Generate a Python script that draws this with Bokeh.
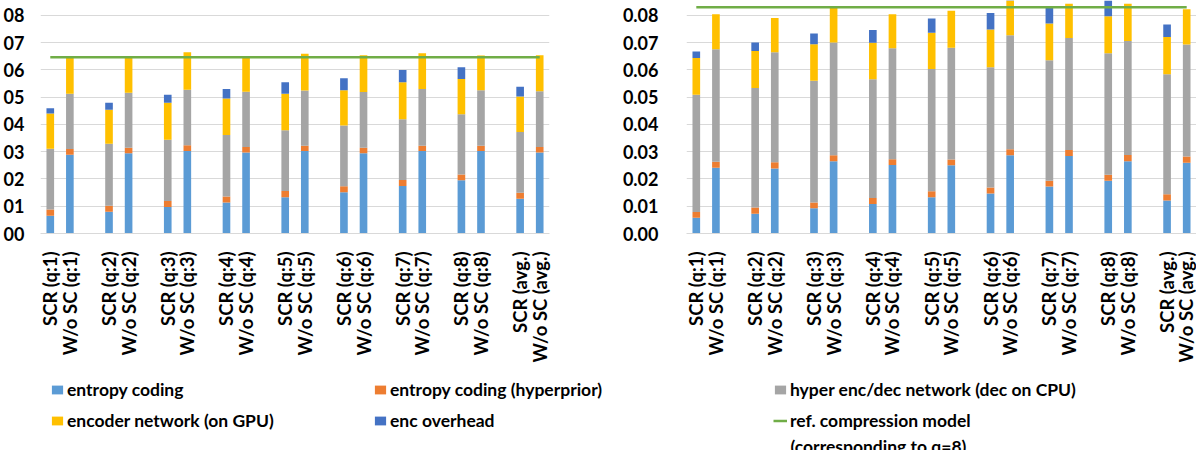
import math
from bokeh.plotting import figure
from bokeh.models import (FixedTicker, Legend, LegendItem, Label, ColumnDataSource,
                          Range1d, PrintfTickFormatter)
from bokeh.layouts import column, row
from bokeh.embed import file_html
from bokeh.resources import INLINE

# ---------------- data ----------------
groups = ["q:1", "q:2", "q:3", "q:4", "q:5", "q:6", "q:7", "q:8", "avg."]
scr_labels = [f"SCR ({g})" for g in groups]
wo_labels = [f"W/o SC ({g})" for g in groups]

series_names = ["entropy coding", "entropy coding (hyperprior)",
                "hyper enc/dec network (dec on CPU)", "encoder network (on GPU)",
                "enc overhead"]

# Left panel (sec.)
left_scr_entropy  = [0.0065, 0.0080, 0.0097, 0.0114, 0.0133, 0.0151, 0.0174, 0.0195, 0.0127]
left_scr_hyper_ec = [0.0023, 0.0022, 0.0022, 0.0022, 0.0023, 0.0022, 0.0022, 0.0021, 0.0022]
left_scr_hypernet = [0.0223, 0.0227, 0.0225, 0.0225, 0.0222, 0.0223, 0.0223, 0.0221, 0.0223]
left_scr_encoder  = [0.0129, 0.0125, 0.0135, 0.0134, 0.0134, 0.0129, 0.0135, 0.0129, 0.0130]
left_scr_overhead = [0.0019, 0.0025, 0.0030, 0.0035, 0.0042, 0.0044, 0.0045, 0.0043, 0.0036]

left_wo_entropy  = [0.0289, 0.0294, 0.0302, 0.0297, 0.0302, 0.0294, 0.0302, 0.0302, 0.0297]
left_wo_hyper_ec = [0.0021, 0.0020, 0.0021, 0.0020, 0.0020, 0.0020, 0.0020, 0.0020, 0.0020]
left_wo_hypernet = [0.0202, 0.0202, 0.0204, 0.0203, 0.0202, 0.0205, 0.0208, 0.0203, 0.0204]
left_wo_encoder  = [0.0133, 0.0128, 0.0137, 0.0124, 0.0135, 0.0134, 0.0131, 0.0127, 0.0132]
left_wo_overhead = [0, 0, 0, 0, 0, 0, 0, 0, 0]

left_ref = 0.0646

# Right panel (sec.)
right_scr_entropy  = [0.0058, 0.0072, 0.0093, 0.0108, 0.0133, 0.0147, 0.0172, 0.0193, 0.0121]
right_scr_hyper_ec = [0.0021, 0.0023, 0.0021, 0.0022, 0.0022, 0.0022, 0.0021, 0.0022, 0.0023]
right_scr_hypernet = [0.0430, 0.0438, 0.0446, 0.0435, 0.0448, 0.0440, 0.0442, 0.0446, 0.0440]
right_scr_encoder  = [0.0134, 0.0136, 0.0134, 0.0134, 0.0133, 0.0139, 0.0135, 0.0135, 0.0136]
right_scr_overhead = [0.0024, 0.0031, 0.0039, 0.0047, 0.0052, 0.0060, 0.0062, 0.0064, 0.0046]

right_wo_entropy  = [0.0241, 0.0238, 0.0265, 0.0251, 0.0250, 0.0287, 0.0284, 0.0265, 0.0259]
right_wo_hyper_ec = [0.0022, 0.0023, 0.0022, 0.0021, 0.0021, 0.0022, 0.0022, 0.0023, 0.0023]
right_wo_hypernet = [0.0412, 0.0403, 0.0413, 0.0407, 0.0410, 0.0418, 0.0411, 0.0418, 0.0411]
right_wo_encoder  = [0.0129, 0.0126, 0.0130, 0.0125, 0.0135, 0.0131, 0.0125, 0.0136, 0.0129]
right_wo_overhead = [0, 0, 0, 0, 0, 0, 0, 0, 0]

right_ref = 0.0829

y_ticks = [0.0, 0.01, 0.02, 0.03, 0.04, 0.05, 0.06, 0.07, 0.08]
left_tick_text = ["00", "01", "02", "03", "04", "05", "06", "07", "08"]

colors = ["#5B9BD5", "#ED7D31", "#A5A5A5", "#FFC000", "#4472C4"]
ref_color = "#70AD47"
grid_color = "#D9D9D9"
FONT = "Lato"

# bar positions: pairs with a gap slot between groups
scr_x = [3 * i for i in range(len(groups))]
wo_x = [3 * i + 1 for i in range(len(groups))]
keys = ["entropy", "hyper_ec", "hypernet", "encoder", "overhead"]


def make_source(scr, wo):
    data = {"x": scr_x + wo_x}
    for k, a, b in zip(keys, scr, wo):
        data[k] = list(a) + list(b)
    return ColumnDataSource(data)


def make_panel(scr, wo, ref, width, bl, br, left_labels):
    p = figure(width=width, height=365, output_backend="svg", toolbar_location=None,
               x_range=Range1d(-0.5, 25.5), y_range=Range1d(0, 0.0854),
               min_border_left=bl, min_border_right=br, min_border_top=0,
               min_border_bottom=128, outline_line_color=None)
    src = make_source(scr, wo)
    p.vbar_stack(keys, x="x", width=0.39, color=colors, line_color=None, source=src)
    ref_x = [scr_x[0], wo_x[-1]]
    p.line(ref_x, [ref, ref], line_color=ref_color, line_width=2.5)

    # x axis
    xt = scr_x + wo_x
    p.xaxis.ticker = FixedTicker(ticks=sorted(xt))
    ov = {}
    for x, lab in zip(scr_x, scr_labels):
        ov[x] = lab
    for x, lab in zip(wo_x, wo_labels):
        ov[x] = lab
    p.xaxis.major_label_overrides = ov
    p.xaxis.major_label_orientation = math.pi / 2
    p.xaxis.major_tick_line_color = None
    p.xaxis.minor_tick_line_color = None
    p.xaxis.axis_line_color = grid_color
    p.xaxis.major_label_standoff = 12
    p.xaxis.major_label_text_font = FONT
    p.xaxis.major_label_text_font_style = "bold"
    p.xaxis.major_label_text_font_size = "18.5px"
    p.xaxis.major_label_text_color = "#000000"

    # y axis
    p.yaxis.ticker = FixedTicker(ticks=y_ticks)
    if left_labels:
        p.yaxis.major_label_overrides = {t: s for t, s in zip(y_ticks, left_tick_text)}
        p.yaxis.major_label_standoff = 10
    else:
        p.yaxis.formatter = PrintfTickFormatter(format="%.2f")
        p.yaxis.major_label_standoff = 22
    p.yaxis.axis_line_color = None
    p.yaxis.major_tick_line_color = None
    p.yaxis.minor_tick_line_color = None
    p.yaxis.major_label_text_font = FONT
    p.yaxis.major_label_text_font_style = "bold"
    p.yaxis.major_label_text_font_size = "18px"
    p.yaxis.major_label_text_color = "#000000"

    p.xgrid.grid_line_color = None
    p.ygrid.grid_line_color = grid_color
    p.ygrid.grid_line_width = 1

    p.add_layout(Label(x=-0.5, y=0, x_offset=-39.5, y_offset=-19.5, text="(Sec.)",
                       text_align="center", text_baseline="middle",
                       text_font=FONT, text_font_style="bold", text_font_size="18px",
                       text_color="#000000"))
    return p


left = make_panel(
    [left_scr_entropy, left_scr_hyper_ec, left_scr_hypernet, left_scr_encoder, left_scr_overhead],
    [left_wo_entropy, left_wo_hyper_ec, left_wo_hypernet, left_wo_encoder, left_wo_overhead],
    left_ref, 600, 39, 51, True)

right = make_panel(
    [right_scr_entropy, right_scr_hyper_ec, right_scr_hypernet, right_scr_encoder, right_scr_overhead],
    [right_wo_entropy, right_wo_hyper_ec, right_wo_hypernet, right_wo_encoder, right_wo_overhead],
    right_ref, 596, 86, 0, False)

# ---------------- legend strip ----------------
leg = figure(width=1196, height=85, output_backend="svg", toolbar_location=None,
             x_range=Range1d(0, 1), y_range=Range1d(0, 1),
             x_axis_type=None, y_axis_type=None, outline_line_color=None,
             min_border_left=0, min_border_right=0, min_border_top=0, min_border_bottom=0)
leg.grid.visible = False

# legend-only renderers (their single point lies outside the strip's visible range)
swatches = []
for c in colors:
    swatches.append(leg.vbar(x=[5], top=[5], bottom=[4], width=0.1, fill_color=c, line_color=None))
ref_sw = leg.line(x=[5, 6], y=[5, 5], line_color=ref_color, line_width=2.5)


def add_legend(items, x):
    lg = Legend(items=items, location=(x, 19), orientation="vertical",
                glyph_width=14, glyph_height=11, label_standoff=3,
                label_height=20, spacing=10, padding=0, margin=0,
                border_line_color=None, background_fill_alpha=0,
                label_text_font=FONT, label_text_font_style="bold",
                label_text_font_size="17.5px", label_text_color="#000000")
    leg.add_layout(lg, "center")


add_legend([LegendItem(label=series_names[0], renderers=[swatches[0]]),
            LegendItem(label=series_names[3], renderers=[swatches[3]])], 50)
add_legend([LegendItem(label=series_names[1], renderers=[swatches[1]]),
            LegendItem(label=series_names[4], renderers=[swatches[4]])], 373)
add_legend([LegendItem(label=series_names[2], renderers=[swatches[2]]),
            LegendItem(label="ref. compression model", renderers=[ref_sw])], 773)
leg.add_layout(Label(x=790, y=4, x_units="screen", y_units="screen",
                     text="(corresponding to q=8)", text_baseline="middle",
                     text_font=FONT, text_font_style="bold", text_font_size="17.5px",
                     text_color="#000000"))

layout = column(row(left, right, spacing=0), leg, spacing=0)
open("out.html", "w").write(file_html(layout, INLINE))
